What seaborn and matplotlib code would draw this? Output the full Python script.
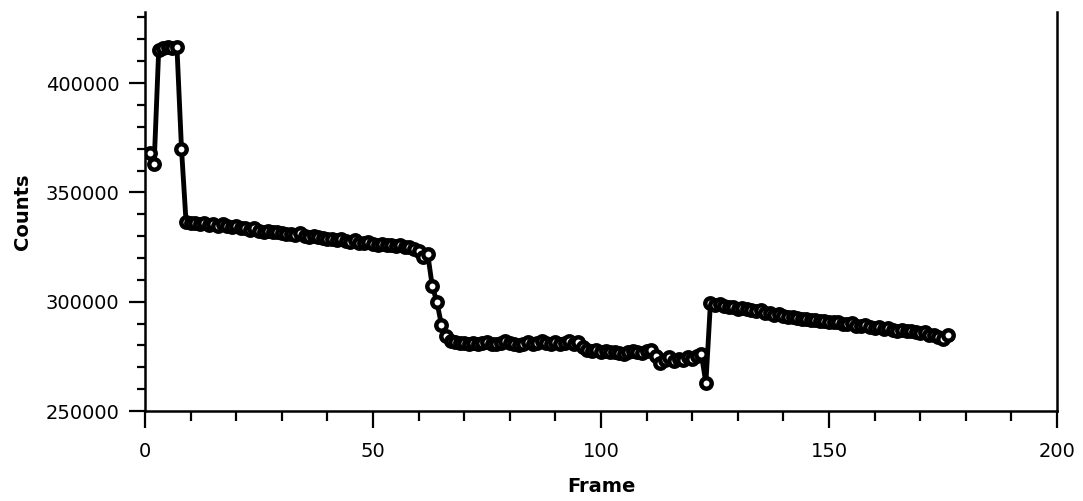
import numpy as np
import pandas as pd
import seaborn as sns
import matplotlib
matplotlib.use("Agg")
import matplotlib.pyplot as plt
from matplotlib.ticker import MultipleLocator

frames = list(range(1, 177))
counts = [
    368000, 363000, 415000, 416000, 416500, 416000, 416500, 370000, 336500,
    336000, 336000, 335500, 335800, 335000, 335500, 334800, 335600, 334500, 334000, 334500,
    333500, 333800, 332800, 333500, 332500, 332000, 332300, 331800, 332000, 331500,
    330800, 331000, 330500, 331200, 330000, 329800, 330200, 329500, 329000, 328500,
    328800, 328000, 328500, 327800, 327500, 328000, 327000, 326800, 327200, 326500,
    326000, 326300, 325800, 326000, 325500, 325800, 325000, 324800, 324000, 323000, 320500,
    321800, 307000, 300000, 289500, 284500,
    282000, 281500, 281000, 281200, 280800, 281000, 280500, 281000, 281500, 280800,
    280500, 281200, 282000, 281000, 280500, 280000, 280800, 281500, 280500, 281000,
    282000, 281200, 280800, 281500, 280500, 281000, 281800, 280800, 281500, 279500,
    278000, 277500, 278000, 277000, 277500, 276800, 277200, 276500, 276000, 276800,
    277500, 277000, 276500, 277500, 277800, 275000, 271800, 273500, 274500, 273000,
    274000, 273500, 274800, 274000, 275000, 276000,
    262800,
    299500, 298500, 298800, 298000, 297500, 297800, 296800, 297200, 296500, 296000,
    295800, 296200, 295000, 294800, 294000, 294500, 293500, 293000, 293200, 292500,
    292000, 292300, 291500, 291800, 291000, 291300, 290800, 290500, 290800, 290000,
    289800, 290200, 289000, 288800, 289200, 288500, 288000, 288300, 287500, 287800,
    287000, 286800, 287200, 286500, 286800, 286000, 285800, 286200, 284800, 285000,
    284000, 282800, 285000,
]
x_ticks = [0, 50, 100, 150, 200]
y_ticks = [250000, 300000, 350000, 400000]

df = pd.DataFrame({"Frame": frames, "Counts": counts})

sns.set_style("ticks")
plt.rcParams["font.family"] = ["DejaVu Sans"]
plt.rcParams["text.color"] = "black"
plt.rcParams["axes.labelcolor"] = "black"
plt.rcParams["xtick.color"] = "black"
plt.rcParams["ytick.color"] = "black"

fig = plt.figure(figsize=(10.83, 5.01), dpi=100)
ax = fig.add_axes([0.1339, 0.1796, 0.976 - 0.1339, 0.976 - 0.1796])

sns.lineplot(data=df, x="Frame", y="Counts", ax=ax, color="black",
             linewidth=3.5, marker="o", markersize=7.5,
             markerfacecolor="white", markeredgecolor="black",
             markeredgewidth=3.2)

ax.set_xlim(0, 200)
ax.set_ylim(250000, 432500)
ax.set_xticks(x_ticks)
ax.set_xticklabels([str(t) for t in x_ticks])
ax.set_yticks(y_ticks)
ax.set_yticklabels([str(t) for t in y_ticks])
ax.xaxis.set_minor_locator(MultipleLocator(10))
ax.yaxis.set_minor_locator(MultipleLocator(10000))

ax.tick_params(axis="x", which="major", direction="out", length=12, width=1.6,
               labelsize=14, pad=10, colors="black")
ax.tick_params(axis="x", which="minor", direction="out", length=7, width=1.6, colors="black")
ax.tick_params(axis="y", which="major", direction="out", length=11.5, width=1.6,
               labelsize=14, pad=7, colors="black")
ax.tick_params(axis="y", which="minor", direction="out", length=6, width=1.6, colors="black")
ax.tick_params(right=False, top=False, which="both")

for s in ["left", "bottom", "right"]:
    ax.spines[s].set_visible(True)
    ax.spines[s].set_linewidth(1.8)
    ax.spines[s].set_color("black")
ax.spines["top"].set_visible(False)

ax.set_xlabel("Frame", fontsize=14, fontweight="bold", labelpad=12, color="black")
ax.set_ylabel("Counts", fontsize=14, fontweight="bold", labelpad=10, color="black")

fig.savefig("out.png", dpi=100)
